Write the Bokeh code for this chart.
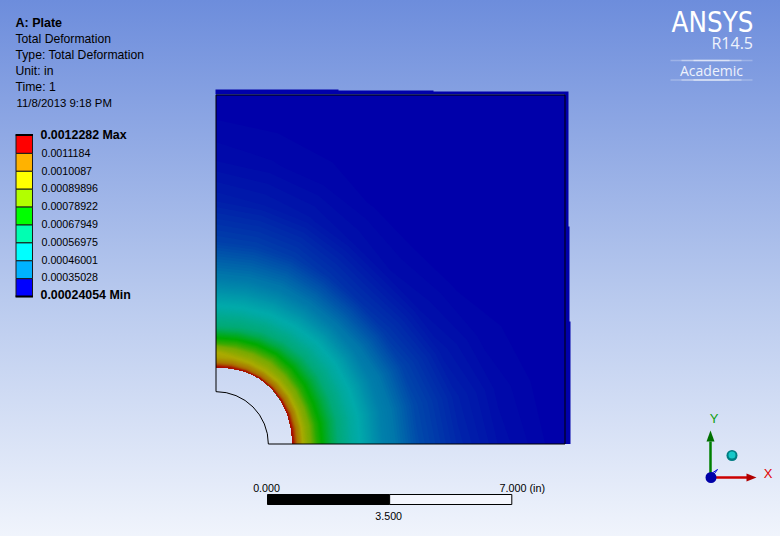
import numpy as np
from bokeh.core.properties import value
from bokeh.embed import file_html
from bokeh.models import Range1d
from bokeh.plotting import figure
from bokeh.resources import INLINE

# ---- header texts ----
TITLE = "A: Plate"
INFO_LINES = ["Total Deformation", "Type: Total Deformation", "Unit: in", "Time: 1"]
DATE_LINE = "11/8/2013 9:18 PM"

# ---- legend ----
LEGEND_LABELS = ["0.0012282 Max", "0.0011184", "0.0010087", "0.00089896", "0.00078922",
                 "0.00067949", "0.00056975", "0.00046001", "0.00035028", "0.00024054 Min"]
LEGEND_COLORS = ["#ff0000", "#ffb200", "#ffff00", "#b2ff00", "#00ff00",
                 "#00ffb2", "#00ffff", "#00b2ff", "#0000ff"]
FIELD_MIN = 2.4054   # 1e-4 in
FIELD_MAX = 12.282   # 1e-4 in

# ---- field: total deformation in 1e-4 in ----
# rays from the plate's hole corner, degrees from the bottom edge
RAY_ANGLES = [0, 11.25, 22.5, 33.75, 45, 56.25, 67.5, 78.75, 90]
# deformed hole edge along each ray, inches
HOLE_EDGE = [2.20, 2.20, 2.22, 2.24, 2.26, 2.26, 2.24, 2.21, 2.20]
# radial stations after the hole edge, inches
RADII = [2.29, 2.41, 2.49, 2.64, 2.89, 3.30, 3.90, 4.79, 5.79, 6.99, 8.19, 9.48, 10.97, 14.18]
DEFORMATION = [
    [12.28, 11.42, 10.55, 9.81, 8.95, 7.80, 6.60, 5.24, 3.89, 3.21, 2.82, 2.58, 2.45, 2.41, 2.41],
    [12.28, 11.42, 10.55, 9.81, 8.95, 7.78, 6.62, 5.26, 3.88, 3.18, 2.77, 2.54, 2.43, 2.41, 2.41],
    [12.28, 11.45, 10.60, 9.85, 8.95, 7.72, 6.60, 5.24, 3.85, 3.12, 2.68, 2.49, 2.42, 2.41, 2.41],
    [12.28, 11.50, 10.70, 10.00, 9.05, 7.85, 6.66, 5.26, 3.78, 3.02, 2.60, 2.45, 2.41, 2.41, 2.41],
    [12.28, 11.52, 10.75, 10.05, 9.15, 8.00, 6.70, 5.24, 3.72, 2.95, 2.56, 2.43, 2.41, 2.41, 2.41],
    [12.28, 11.50, 10.70, 10.00, 9.25, 8.15, 6.65, 5.15, 3.70, 2.98, 2.60, 2.45, 2.41, 2.41, 2.41],
    [12.28, 11.45, 10.60, 10.00, 9.25, 8.05, 6.55, 5.08, 3.72, 3.05, 2.66, 2.48, 2.42, 2.41, 2.41],
    [12.28, 11.42, 10.55, 10.05, 9.25, 8.00, 6.40, 5.02, 3.70, 3.08, 2.70, 2.51, 2.43, 2.41, 2.41],
    [12.28, 11.42, 10.55, 10.05, 9.81, 7.96, 6.35, 5.00, 3.70, 3.10, 2.74, 2.54, 2.44, 2.41, 2.41],
]

# ---- geometry of the model, inches ----
PLATE_SIZE = 10.0
HOLE_RADIUS = 1.5
SCALE_TICKS = [0.0, 3.5, 7.0]
SCALE_LABELS = ["0.000", "3.500", "7.000 (in)"]

# ---- page mapping: 34.9 px per inch, origin at the plate's lower left corner ----
PX_PER_IN = 34.9
X0, Y0 = 215.5, 443.5
def X(px):
    return (np.asarray(px, dtype=float) - X0) / PX_PER_IN
def Y(py):
    return (Y0 - np.asarray(py, dtype=float)) / PX_PER_IN

p = figure(width=780, height=536, x_range=Range1d(float(X(0)), float(X(780))),
           y_range=Range1d(float(Y(536)), float(Y(0))), output_backend="svg",
           toolbar_location=None, min_border=0, outline_line_color=None,
           background_fill_alpha=0, border_fill_alpha=0)
p.axis.visible = False
p.grid.visible = False
p.styles = {"background": "linear-gradient(180deg, #6d8ddc 0px, #b9caee 300px, #f0f4fc 536px)"}

FONT = value("Liberation Sans")

# deformed plate sliver beyond the undeformed outline
p.patch(X([215, 338, 338, 433, 433, 568, 568, 569, 569, 570, 570, 564, 564, 215]),
        Y([89, 89, 90, 90, 91, 91, 226, 226, 321, 321, 443.5, 443.5, 94, 94]),
        fill_color="#0000aa", line_color=None)

# contour field on a mesh of rays clipped to the plate
angles = np.radians(RAY_ANGLES)
boundary = PLATE_SIZE / np.maximum(np.cos(angles), np.sin(angles))
radii = np.column_stack([HOLE_EDGE] + [np.minimum(r, boundary) for r in RADII])
mesh_x = radii * np.cos(angles)[:, None]
mesh_y = radii * np.sin(angles)[:, None]
z = np.array(DEFORMATION)

def rgb(c):
    return np.array([int(c[i:i + 2], 16) for i in (1, 3, 5)], dtype=float)

nodes = np.array([rgb(c) for c in LEGEND_COLORS[::-1]]) * 0.667   # model lighting dims the fringe colours
n_bands = 200
levels = np.linspace(FIELD_MIN, FIELD_MAX, n_bands + 1)
top = FIELD_MAX + 0.01
def shade(v):
    t = np.clip((v - FIELD_MIN) / (FIELD_MAX - FIELD_MIN) * 8, 0, 8)
    return "#%02x%02x%02x" % tuple(int(round(np.interp(t, np.arange(9), nodes[:, k]))) for k in range(3))
# nested fills, lowest first, so neighbouring bands leave no seam
for low in levels[:-1]:
    p.contour(mesh_x, mesh_y, z, levels=[float(low), top], fill_color=[shade(low)])

# undeformed outline
p.line([HOLE_RADIUS, PLATE_SIZE, PLATE_SIZE, 0, 0], [0, 0, PLATE_SIZE, PLATE_SIZE, HOLE_RADIUS],
       line_color="black", line_width=1)
p.arc(x=[0], y=[0], radius=HOLE_RADIUS, start_angle=0, end_angle=np.pi / 2, line_color="black", line_width=1)

# legend bar
rows = np.arange(len(LEGEND_COLORS))
bar_top = 135 + 17.9 * rows
p.quad(left=float(X(15.5)), right=float(X(32)), top=Y(bar_top), bottom=Y(bar_top + 17.9),
       fill_color=LEGEND_COLORS, line_color="#1a1a1a", line_width=1)
p.line(X([15, 32.5]), Y([134.5, 134.5]), line_color="black", line_width=2)
p.line(X([15, 32.5]), Y([296, 296]), line_color="black", line_width=2)

# left column texts
p.text(X([15]), Y([22]), text=[TITLE], text_font=FONT, text_font_style="bold", text_font_size="12.5px",
       text_baseline="middle", text_color="black")
p.text(X([15] * 4), Y([38.5, 54.5, 70.5, 86.5]), text=INFO_LINES, text_font=FONT, text_font_size="12.2px",
       text_baseline="middle", text_color="black")
p.text(X([16]), Y([102.5]), text=[DATE_LINE], text_font=FONT, text_font_size="11.4px",
       text_baseline="middle", text_color="black")
label_y = 134.5 + 17.8 * np.arange(len(LEGEND_LABELS))
mid_ids = list(range(1, 9))
p.text(X([41] * 8), Y(label_y[mid_ids]), text=LEGEND_LABELS[1:9], text_font=FONT, text_font_size="10.7px",
       text_baseline="middle", text_color="black")
p.text(X([40, 40]), Y(label_y[[0, 9]]), text=[LEGEND_LABELS[0], LEGEND_LABELS[9]], text_font=FONT,
       text_font_style="bold", text_font_size="12.4px", text_baseline="middle", text_color="black")

# scale bar
bar_left = X0 + 51.5
ticks_px = bar_left + np.array(SCALE_TICKS) * PX_PER_IN
p.quad(left=X(ticks_px[0]), right=X(ticks_px[1]), top=Y(494), bottom=Y(504), fill_color="black", line_color="black")
p.quad(left=X(ticks_px[1]), right=X(ticks_px[2]), top=Y(494), bottom=Y(504), fill_color="#f4f6fd", line_color="black")
p.text(X([ticks_px[0] - 1, ticks_px[1] - 1]), Y([487, 515]), text=[SCALE_LABELS[0], SCALE_LABELS[1]], text_font=FONT,
       text_font_size="10.7px", text_align="center", text_baseline="middle", text_color="black")
p.text(X([499]), Y([487]), text=[SCALE_LABELS[2]], text_font=FONT, text_font_size="10.8px",
       text_baseline="middle", text_color="black")

# product mark
p.text(X([753]), Y([21]), text=["ANSYS"], text_font=value("DejaVu Sans Condensed"),
       text_font_size="27.5px", text_align="right", text_baseline="middle", text_color="white")
p.text(X([752.5]), Y([42]), text=["R14.5"], text_font=value("Open Sans"), text_font_size="16px",
       text_align="right", text_baseline="middle", text_color="#eef2fc")
p.text(X([711]), Y([69.5]), text=["Academic"], text_font=value("Open Sans"), text_font_size="14px",
       text_align="center", text_baseline="middle", text_color="#eef2fc")
for yy in (60, 79.5):
    for half, alpha in ((41, 0.25), (30, 0.35), (18, 0.45)):
        p.line(X([711 - half, 711 + half]), Y([yy, yy]), line_color="white", line_alpha=alpha, line_width=1.5)

# triad
p.line(X([710, 747]), Y([477, 477]), line_color="#cc0000", line_width=2.5)
p.line(X([710, 710]), Y([477, 441]), line_color="#008000", line_width=2.5)
p.patch(X([746, 756, 746]), Y([473, 477, 481]), fill_color="#b00000", line_color=None)
p.patch(X([706, 710, 714]), Y([441, 430, 441]), fill_color="#007000", line_color=None)
p.line(X([711, 717, 714, 711]), Y([473, 469, 473, 473]), line_color="#0000dd", line_width=1)
p.scatter(X([710.5]), Y([477]), size=11, marker="circle", fill_color="#0000a8", line_color=None)
p.scatter(X([731.5]), Y([455]), size=11, marker="circle", fill_color="#007d82", line_color=None)
p.scatter(X([731.5]), Y([454.5]), size=7, marker="circle", fill_color="#16c8c8", line_color=None)
p.text(X([713.5]), Y([418]), text=["Y"], text_font=FONT, text_font_size="13px", text_align="center",
       text_baseline="middle", text_color="#10a010")
p.text(X([767.5]), Y([472.5]), text=["X"], text_font=FONT, text_font_size="13px", text_align="center",
       text_baseline="middle", text_color="#e00000")

open("out.html", "w").write(file_html(p, INLINE))
